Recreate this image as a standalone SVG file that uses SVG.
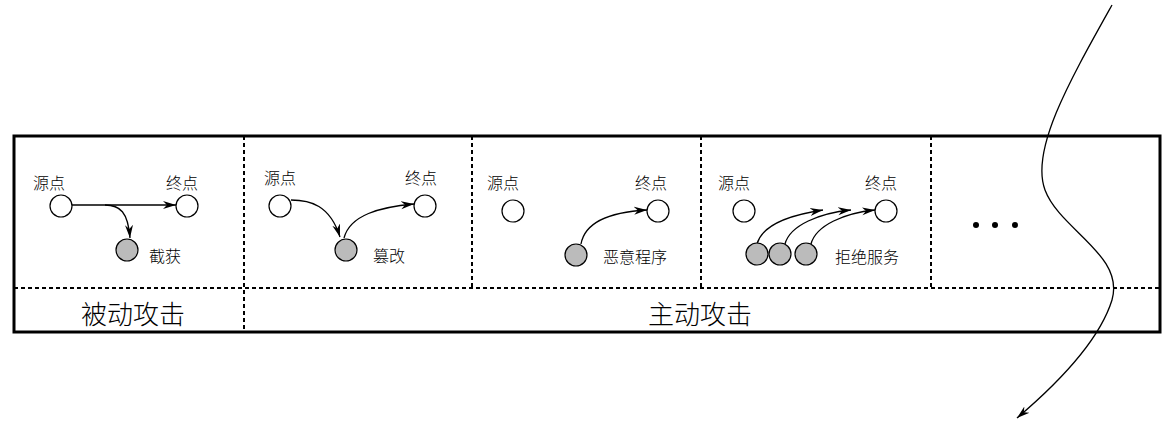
<svg xmlns="http://www.w3.org/2000/svg" width="1176" height="424" viewBox="0 0 1176 424">
<style>
text{font-family:"Noto Sans CJK SC","DejaVu Sans",sans-serif;fill:#000}
.s{font-size:16px;font-weight:300}.b{font-size:26px;font-weight:300}
.w{fill:#fff;stroke:#000;stroke-width:1.2}
.g{fill:#bbb;stroke:#000;stroke-width:1.2}
.d{stroke:#000;stroke-width:2;stroke-dasharray:4 3;fill:none}
.c{fill:none;stroke:#000;stroke-width:1.3;marker-end:url(#a)}
</style>
<defs><marker id="a" markerWidth="14" markerHeight="10" refX="13" refY="5" orient="auto" markerUnits="userSpaceOnUse"><path d="M0,1 L13,5 L0,9 L4,5 Z" fill="#000"/></marker></defs>
<rect x="14" y="136" width="1146" height="196" fill="#fff" stroke="#000" stroke-width="3"/>
<g id="grid">
<line class="d" x1="14" y1="288" x2="1160" y2="288"/>
<line class="d" x1="244" y1="136" x2="244" y2="332"/>
<line class="d" x1="472" y1="136" x2="472" y2="288"/>
<line class="d" x1="701" y1="136" x2="701" y2="288"/>
<line class="d" x1="931" y1="136" x2="931" y2="288"/>
</g>
<g id="connectors">
<path class="c" d="M72,205 L176,205"/>
<path class="c" d="M105,205 C120,205 128,212 130,238"/>
<path class="c" d="M291,200 C310,200 330,205 340,237"/>
<path class="c" d="M344,238 C350,215 380,207 414,204"/>
<path class="c" d="M581,244 C585,222 610,212 647,210"/>
<path class="c" d="M757,244 C762,225 790,215 823,210"/>
<path class="c" d="M785,244 C790,225 820,213 851,210"/>
<path class="c" d="M811,244 C816,225 845,213 875,210"/>
<path class="c" d="M1112,5 C1070,80 1030,150 1045,190 C1060,230 1125,255 1112,300 C1098,345 1050,390 1017,418"/>
</g>
<g id="p1"><text class="s" x="33" y="189">源点</text><text class="s" x="166" y="189">终点</text>
<circle class="w" cx="61" cy="206" r="11"/><circle class="w" cx="187" cy="206" r="11"/>
<circle class="g" cx="127" cy="250" r="11"/><text class="s" x="149" y="262">截获</text></g>
<g id="p2"><text class="s" x="264" y="184">源点</text><text class="s" x="405" y="184">终点</text>
<circle class="w" cx="280" cy="206" r="11"/><circle class="w" cx="425" cy="206" r="11"/>
<circle class="g" cx="346" cy="250" r="11"/><text class="s" x="373" y="262">篡改</text></g>
<g id="p3"><text class="s" x="487" y="189">源点</text><text class="s" x="635" y="189">终点</text>
<circle class="w" cx="513" cy="211" r="11"/><circle class="w" cx="658" cy="211" r="11"/>
<circle class="g" cx="576" cy="255" r="11"/><text class="s" x="603" y="263">恶意程序</text></g>
<g id="p4"><text class="s" x="718" y="189">源点</text><text class="s" x="865" y="189">终点</text>
<circle class="w" cx="744" cy="211" r="11"/><circle class="w" cx="886" cy="211" r="11"/>
<circle class="g" cx="757" cy="254" r="11"/><circle class="g" cx="780" cy="254" r="11"/><circle class="g" cx="806" cy="254" r="11"/>
<text class="s" x="835" y="263">拒绝服务</text></g>
<g id="dots"><circle cx="976" cy="225" r="3"/><circle cx="995" cy="225" r="3"/><circle cx="1015" cy="225" r="3"/></g>
<text class="b" x="133" y="324" text-anchor="middle">被动攻击</text>
<text class="b" x="700" y="324" text-anchor="middle">主动攻击</text>
</svg>
